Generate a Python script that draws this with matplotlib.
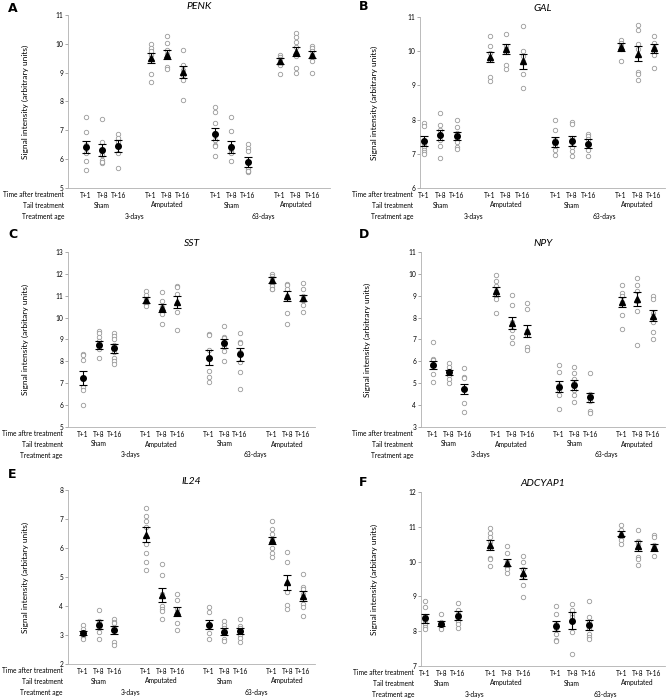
import matplotlib
matplotlib.use("Agg")
import matplotlib.pyplot as plt
import matplotlib.transforms as mtransforms

plt.rcParams['font.family'] = ['Lato', 'DejaVu Sans']

# group layout: 4 blocks of 3 time points
times = ['T+1', 'T+8', 'T+16'] * 4
tails = ['Sham', 'Amputated', 'Sham', 'Amputated']
ages = ['3-days', '63-days']
xpos = [0, 1, 2, 4, 5, 6, 8, 9, 10, 12, 13, 14]

# ---- PENK ----
penk_pts = [
    [7.45, 6.95, 6.5, 6.2, 5.93, 5.62],
    [7.38, 6.6, 6.3, 6.15, 5.97, 5.88, 5.9],
    [6.87, 6.72, 6.6, 6.45, 6.2, 5.7],
    [10.0, 9.87, 9.75, 9.6, 8.95, 8.67],
    [10.28, 10.04, 9.8, 9.65, 9.2, 9.12],
    [9.77, 9.27, 9.1, 8.92, 8.75, 8.05],
    [7.8, 7.65, 7.27, 6.9, 6.68, 6.5, 6.45, 6.1],
    [7.45, 6.98, 6.47, 6.3, 6.2, 5.95],
    [6.54, 6.4, 6.3, 5.65, 5.6, 5.55, 5.58],
    [9.62, 9.55, 9.48, 9.3, 9.25, 8.97],
    [10.36, 10.22, 10.07, 9.9, 9.57, 9.17, 9.0],
    [9.93, 9.85, 9.75, 9.6, 9.4, 8.98],
]
penk_mean = [6.42, 6.32, 6.45, 9.5, 9.63, 9.03, 6.87, 6.43, 5.9, 9.4, 9.73, 9.63]
penk_err = [0.21, 0.21, 0.2, 0.17, 0.145, 0.2, 0.21, 0.21, 0.17, 0.1, 0.16, 0.12]

# ---- GAL ----
gal_pts = [
    [7.9, 7.82, 7.3, 7.2, 7.1, 7.05, 7.0],
    [8.2, 7.84, 7.7, 7.55, 7.4, 7.23, 6.88],
    [7.98, 7.78, 7.6, 7.45, 7.35, 7.2, 7.15],
    [10.43, 10.14, 9.95, 9.75, 9.24, 9.13],
    [10.49, 10.14, 10.05, 9.98, 9.6, 9.47],
    [10.75, 10.0, 9.85, 9.7, 9.33, 8.91],
    [7.98, 7.7, 7.4, 7.23, 7.1, 6.97],
    [7.92, 7.87, 7.45, 7.4, 7.2, 7.08, 6.95],
    [7.59, 7.52, 7.42, 7.3, 7.25, 7.1, 6.93],
    [10.33, 10.25, 10.15, 10.05, 9.72],
    [10.78, 10.63, 10.22, 10.05, 9.38, 9.33, 9.15],
    [10.45, 10.25, 10.1, 10.0, 9.9, 9.5],
]
gal_mean = [7.38, 7.55, 7.52, 9.83, 10.06, 9.7, 7.34, 7.37, 7.3, 10.12, 9.92, 10.09]
gal_err = [0.14, 0.14, 0.12, 0.15, 0.14, 0.23, 0.15, 0.14, 0.12, 0.11, 0.22, 0.13]

# ---- SST ----
sst_pts = [
    [8.35, 8.28, 8.07, 6.85, 6.7, 6.0],
    [9.38, 9.28, 9.13, 8.95, 8.75, 8.55, 8.14],
    [9.28, 9.18, 9.0, 8.75, 8.45, 8.15, 8.0, 7.88],
    [11.2, 11.03, 10.85, 10.7, 10.63, 10.55],
    [11.15, 10.76, 10.48, 10.38, 10.3, 10.15, 9.72],
    [11.45, 11.38, 11.1, 10.65, 10.27, 9.42],
    [9.27, 9.2, 8.54, 8.1, 7.57, 7.3, 7.06],
    [9.6, 9.13, 9.05, 8.75, 8.67, 8.48, 8.02],
    [9.3, 8.9, 8.82, 8.45, 7.98, 7.52, 6.72],
    [12.0, 11.9, 11.8, 11.6, 11.45, 11.33, 11.3],
    [11.53, 11.47, 11.3, 11.0, 10.2, 9.73],
    [11.58, 11.3, 11.0, 10.8, 10.57, 10.27],
]
sst_mean = [7.24, 8.75, 8.6, 10.8, 10.43, 10.72, 8.17, 8.82, 8.33, 11.7, 10.98, 10.9]
sst_err = [0.32, 0.19, 0.21, 0.15, 0.18, 0.26, 0.33, 0.21, 0.3, 0.14, 0.23, 0.15]

# ---- NPY ----
npy_pts = [
    [6.88, 6.12, 6.05, 5.85, 5.4, 5.05],
    [5.92, 5.75, 5.55, 5.48, 5.37, 5.2, 5.0],
    [5.72, 5.3, 5.23, 4.8, 4.08, 3.7],
    [9.95, 9.66, 9.43, 9.2, 8.97, 8.85, 8.2],
    [9.03, 8.56, 7.8, 7.45, 7.1, 6.85],
    [8.65, 8.38, 7.37, 7.2, 6.68, 6.5],
    [5.84, 5.5, 4.9, 4.7, 4.45, 3.84],
    [5.76, 5.46, 5.18, 5.0, 4.7, 4.48, 4.13],
    [5.46, 4.52, 4.36, 4.18, 3.74, 3.62],
    [9.5, 9.12, 8.97, 8.7, 8.12, 7.5],
    [9.81, 9.5, 9.2, 8.75, 8.3, 6.77],
    [9.0, 8.85, 8.2, 7.8, 7.33, 7.0],
]
npy_mean = [5.82, 5.5, 4.73, 9.2, 7.76, 7.37, 4.85, 4.93, 4.36, 8.7, 8.85, 8.09]
npy_err = [0.19, 0.11, 0.24, 0.21, 0.27, 0.27, 0.27, 0.23, 0.2, 0.23, 0.34, 0.24]

# ---- IL24 ----
il24_pts = [
    [3.33, 3.2, 3.1, 3.02, 2.93, 2.87],
    [3.87, 3.5, 3.4, 3.23, 3.12, 2.85],
    [3.55, 3.45, 3.4, 3.28, 2.75, 2.65],
    [7.39, 7.1, 6.94, 6.74, 6.14, 5.82, 5.53, 5.24],
    [5.45, 5.07, 4.4, 4.0, 3.9, 3.84, 3.55],
    [4.42, 4.22, 3.9, 3.75, 3.4, 3.17],
    [3.98, 3.78, 3.38, 3.3, 3.08, 2.85],
    [3.47, 3.35, 3.25, 3.1, 2.85, 2.8],
    [3.55, 3.3, 3.25, 3.15, 3.0, 2.89, 2.76],
    [6.92, 6.65, 6.5, 6.3, 6.0, 5.82, 5.7],
    [5.85, 5.53, 4.8, 4.5, 4.05, 3.9],
    [5.1, 4.66, 4.6, 4.4, 4.06, 3.97, 3.65],
]
il24_mean = [3.08, 3.35, 3.17, 6.45, 4.38, 3.81, 3.36, 3.12, 3.13, 6.26, 4.82, 4.35]
il24_err = [0.07, 0.16, 0.14, 0.26, 0.23, 0.17, 0.16, 0.12, 0.11, 0.11, 0.26, 0.17]

# ---- ADCYAP1 ----
adcyap1_pts = [
    [8.88, 8.7, 8.45, 8.3, 8.2, 8.12, 8.07],
    [8.48, 8.27, 8.2, 8.15, 8.1, 8.07],
    [8.8, 8.62, 8.5, 8.35, 8.3, 8.2, 8.1],
    [10.97, 10.83, 10.7, 10.55, 10.4, 10.1, 10.08, 9.86],
    [10.45, 10.24, 10.0, 9.88, 9.78, 9.66],
    [10.15, 10.0, 9.8, 9.58, 9.33, 8.99],
    [8.72, 8.49, 8.22, 8.08, 7.93, 7.76, 7.72],
    [8.78, 8.6, 8.5, 8.41, 7.98, 7.34],
    [8.88, 8.4, 8.27, 8.08, 7.92, 7.84, 7.79],
    [11.06, 10.92, 10.8, 10.75, 10.62, 10.5],
    [10.92, 10.6, 10.55, 10.47, 10.14, 10.07, 9.9],
    [10.77, 10.7, 10.48, 10.4, 10.15],
]
adcyap1_mean = [8.37, 8.22, 8.44, 10.48, 9.97, 9.66, 8.15, 8.3, 8.17, 10.8, 10.45, 10.41]
adcyap1_err = [0.12, 0.07, 0.13, 0.15, 0.1, 0.17, 0.13, 0.25, 0.14, 0.07, 0.14, 0.11]

W, H = 669, 698
FS = 4.8
fig = plt.figure(figsize=(W / 100, H / 100), dpi=100)


def draw_panel(letter, gene, pts, mean, err, ylim, box, xlim, ylab, rowlab, label_x, letter_xy):
    """box = (left, top, right, bottom) in pixels"""
    l, t, r, b = box
    ax = fig.add_axes([l / W, 1 - b / H, (r - l) / W, (b - t) / H])
    for x, p in zip(xpos, pts):
        ax.plot([x] * len(p), p, 'o', ms=3.2, mfc='white', mec='#9a9a9a', mew=0.6, zorder=2)
    for i, (x, m, e) in enumerate(zip(xpos, mean, err)):
        mk = 'o' if tails[i // 3] == 'Sham' else '^'
        ax.errorbar(x, m, yerr=e, fmt=mk, ms=4 if mk == 'o' else 4.6, color='black',
                    ecolor='black', elinewidth=0.8, capsize=2.6, capthick=0.8, zorder=3)
    ax.set_ylim(*ylim)
    ax.set_xlim(*xlim)
    ax.set_yticks(range(ylim[0], ylim[1] + 1))
    ax.set_xticks(xpos)
    ax.set_xticklabels(times, fontsize=FS)
    ax.tick_params(axis='x', length=0, pad=3)
    ax.tick_params(axis='y', labelsize=FS, length=2, width=0.5, color='#888888', pad=1.5)
    for s in ['top', 'right']:
        ax.spines[s].set_visible(False)
    for s in ['left', 'bottom']:
        ax.spines[s].set_color('#b0b0b0')
        ax.spines[s].set_linewidth(0.6)
    ax.set_title(gene, fontsize=7.5, style='italic', pad=4)

    # category rows under the axis
    trans = mtransforms.blended_transform_factory(ax.transData, ax.transAxes)
    dy = 1.0 / (b - t)
    for k, tl in enumerate(tails):
        cx = sum(xpos[3 * k:3 * k + 3]) / 3
        ax.text(cx, -17 * dy, tl, transform=trans, fontsize=FS, ha='center', va='center')
    for k, ag in enumerate(ages):
        cx = sum(xpos[6 * k:6 * k + 6]) / 6
        ax.text(cx, -28 * dy, ag, transform=trans, fontsize=FS, ha='center', va='center')
    for k, txt in enumerate(rowlab):
        fig.text(label_x / W, 1 - (b + 6.5 + 11 * k) / H, txt, fontsize=FS,
                 ha='right', va='center')

    fig.text(letter_xy[0] / W, 1 - letter_xy[1] / H, letter, fontsize=9,
             fontweight='bold', family='DejaVu Sans', ha='left', va='center')
    fig.text(ylab[0] / W, 1 - (t + b) / 2 / H, ylab[1], fontsize=6, rotation=90,
             ha='center', va='center')
    return ax


rows = ['Time after treatment', 'Tail treatment', 'Treatment age']
rows_c = ['Time aftre treatment', 'Tail treatment', 'Treatment age']
lab = 'Signal intensity (arbitrary units)'
lab2 = 'Signal intensity (arbitary units)'

draw_panel('A', 'PENK', penk_pts, penk_mean, penk_err, (5, 11),
           (68, 15, 330, 188), (-1.12, 15.1), (25, lab), rows, 64, (8, 8))
draw_panel('B', 'GAL', gal_pts, gal_mean, gal_err, (6, 11),
           (420, 17, 665, 188), (-0.24, 14.67), (374, lab), rows, 413, (359, 7))
draw_panel('C', 'SST', sst_pts, sst_mean, sst_err, (5, 13),
           (68, 252, 315, 427), (-0.96, 14.77), (25, lab2), rows_c, 63, (8, 235))
draw_panel('D', 'NPY', npy_pts, npy_mean, npy_err, (3, 11),
           (421, 252, 665, 427), (-0.76, 14.76), (367, lab), rows, 413, (359, 235))
draw_panel('E', 'IL24', il24_pts, il24_mean, il24_err, (2, 8),
           (68, 490, 315, 664), (-0.95, 14.76), (25, lab2), rows, 63, (8, 475))
draw_panel('F', 'ADCYAP1', adcyap1_pts, adcyap1_mean, adcyap1_err, (7, 12),
           (421, 492, 665, 666), (-0.24, 14.67), (374, lab2), rows, 414, (359, 483))

fig.savefig('out.png', dpi=100)
